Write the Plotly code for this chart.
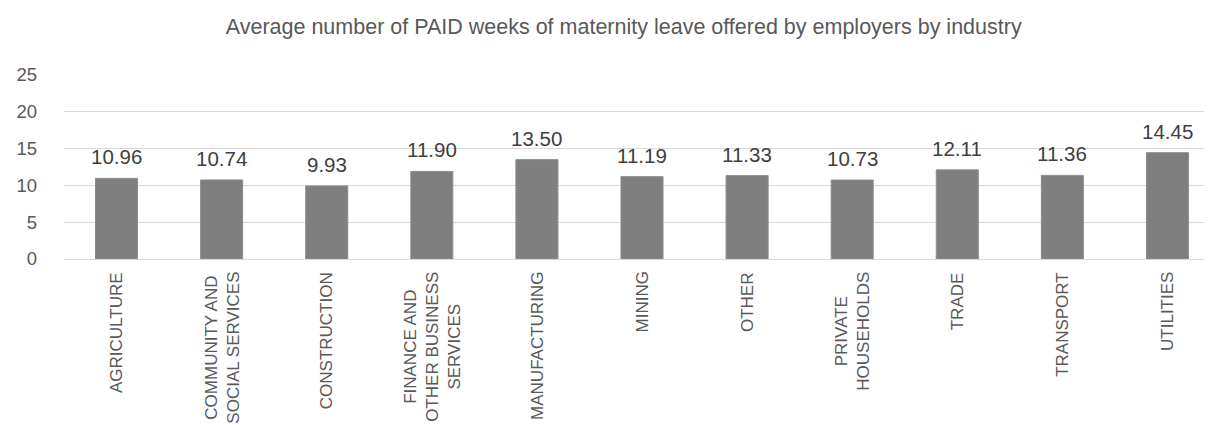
import plotly.graph_objects as go

categories = [
    "AGRICULTURE",
    "COMMUNITY AND<br>SOCIAL SERVICES",
    "CONSTRUCTION",
    "FINANCE AND<br>OTHER BUSINESS<br>SERVICES",
    "MANUFACTURING",
    "MINING",
    "OTHER",
    "PRIVATE<br>HOUSEHOLDS",
    "TRADE",
    "TRANSPORT",
    "UTILITIES",
]
paid_weeks = [10.96, 10.74, 9.93, 11.90, 13.50, 11.19, 11.33, 10.73, 12.11, 11.36, 14.45]
y_ticks = [0, 5, 10, 15, 20, 25]

title_text = "Average number of PAID weeks of maternity leave offered by employers by industry"

FONT = "Liberation Sans, Arial, sans-serif"

fig = go.Figure()
fig.add_trace(go.Bar(
    x=categories,
    y=paid_weeks,
    marker=dict(color="#7f7f7f", line=dict(color="#8c8c8c", width=1)),
    width=0.4,
    hoverinfo="skip",
))

annotations = []
for c, v in zip(categories, paid_weeks):
    annotations.append(dict(
        x=c, y=v, xref="x", yref="y",
        text=f"{v:.2f}", showarrow=False,
        yanchor="bottom", yshift=8,
        font=dict(family=FONT, size=20.5, color="#404040"),
    ))
    annotations.append(dict(
        x=c, y=0, xref="x", yref="paper",
        text=c, showarrow=False, textangle=-90,
        xanchor="center", yanchor="top", yshift=-11, align="center",
        font=dict(family=FONT, size=17, color="#595959"),
    ))

fig.update_layout(
    width=1212, height=425,
    paper_bgcolor="white", plot_bgcolor="white",
    margin=dict(l=56, r=0, t=67, b=174),
    title=dict(text=title_text, x=0.508, xanchor="center", y=0.956, yanchor="middle",
               xref="container",
               font=dict(family=FONT, size=21.5, color="#595959")),
    showlegend=False,
    annotations=annotations,
    xaxis=dict(showticklabels=False, showgrid=False, showline=True,
               linecolor="#d9d9d9", linewidth=1, zeroline=False),
    yaxis=dict(range=[0, 25], tickvals=y_ticks, showgrid=True, gridcolor="#d9d9d9",
               gridwidth=1, zeroline=False, showline=False, ticks="",
               ticklabelstandoff=26,
               tickfont=dict(family=FONT, size=18.5, color="#595959")),
    bargap=0.6,
)

fig.write_html("out.html")
